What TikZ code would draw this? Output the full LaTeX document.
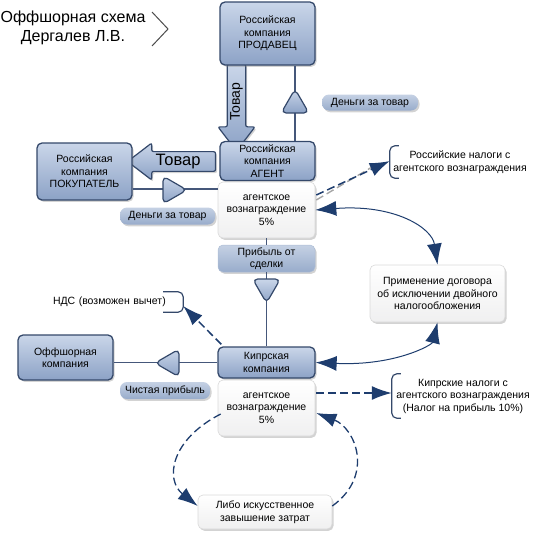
\documentclass[tikz,border=0pt]{standalone}
\usepackage{fontspec}
\setmainfont{Liberation Sans}
\usetikzlibrary{shapes.geometric,shapes.arrows,shadows,arrows.meta,calc}
\definecolor{bdr}{HTML}{34486A}
\definecolor{blueT}{HTML}{CAD6E9}
\definecolor{blueB}{HTML}{8CA2C6}
\definecolor{lineC}{HTML}{45577A}
\definecolor{arrC}{HTML}{1E3D6E}
\definecolor{pillT}{HTML}{C5D1E4}
\definecolor{pillB}{HTML}{98ACCB}
\tikzset{
 txt/.style={font=\fontsize{10.5}{12.5}\selectfont},
 shad/.style={drop shadow={opacity=0.35,shadow xshift=1.5pt,shadow yshift=-1.8pt}},
 bluebox/.style={draw=bdr, line width=1.3pt, rounded corners=5pt, top color=blueT, bottom color=blueB, shad, align=center, txt, inner sep=0pt},
 whitebox/.style={draw=black!15, line width=0.6pt, rounded corners=5pt, top color=white, bottom color=blue!4!black!6, shad, align=center, txt, inner sep=0pt},
 pillbox/.style={draw=pillB!80, line width=0.5pt, rounded corners=5pt, top color=pillT, bottom color=pillB, shad, align=center, txt, inner sep=0pt},
 pill/.style={rounded corners=7pt, top color=pillT, bottom color=pillB, shad, txt, inner sep=0pt},
 conn/.style={draw=lineC, line width=1.5pt},
 tri/.style={regular polygon, regular polygon sides=3, minimum size=32pt, inner sep=0pt, draw=bdr, line width=1.2pt, rounded corners=5pt, top color=blueT, bottom color=blueB},
 bigarrow/.style={single arrow, draw=bdr, line width=1.2pt, top color=blueT, bottom color=blueB, inner sep=0pt, single arrow head extend=7pt, single arrow tip angle=75, rounded corners=2pt, shad},
 dasharr/.style={draw=arrC, line width=1.5pt, dash pattern=on 8pt off 4pt, -{Latex[length=20pt,width=14pt]}},
 curvarr/.style={draw=arrC, line width=1pt, {Latex[length=21pt,width=15pt]}-{Latex[length=21pt,width=15pt]}},
 brk/.style={draw=bdr, line width=1.2pt, rounded corners=5pt},
 lbl/.style={txt, align=center, inner sep=0pt},
}
\begin{document}
\begin{tikzpicture}[x=1pt,y=-1pt]
\useasboundingbox (0,0) rectangle (534,533);
% title
\node[font=\fontsize{16}{19}\selectfont, align=center, inner sep=0pt] (title) at (73,28) {Оффшорная схема\\Дергалев Л.В.};
\coordinate (c1) at (152,12); \coordinate (c2) at (168,29); \coordinate (c3) at (152,46);
\draw[black!70, line width=1pt] (c1) -- (c2) -- (c3);

% big arrows (under boxes)
\node[bigarrow, rotate=90, shape border rotate=180, minimum height=87pt, minimum width=37pt, font=\fontsize{14}{14}\selectfont] (goods1) at (236.5,101.5) {Товар};
\node[bigarrow, shape border rotate=180, minimum height=88pt, minimum width=37pt, font=\fontsize{16.5}{16.5}\selectfont] (goods2) at (178,161.5) {Товар};

% main boxes
\node[bluebox, minimum width=95pt, minimum height=63pt] (seller) at (267.5,33.5) {Российская\\компания\\ПРОДАВЕЦ};
\node[bluebox, minimum width=95pt, minimum height=39pt] (agent) at (267.5,161) {Российская\\компания\\АГЕНТ};
\node[bluebox, minimum width=95pt, minimum height=57pt] (buyer) at (84.5,171.5) {Российская\\компания\\ПОКУПАТЕЛЬ};
\node[whitebox, minimum width=97pt, minimum height=56pt] (reward1) at (266.5,210) {агентское\\вознаграждение\\5\%};
\node[pillbox, minimum width=97pt, minimum height=27pt] (profit) at (266.5,258.5) {Прибыль от\\сделки};
\node[bluebox, minimum width=97pt, minimum height=31pt] (cyprus) at (266.5,362.5) {Кипрская\\компания};
\node[bluebox, minimum width=95pt, minimum height=45pt] (offshore) at (65.5,357.5) {Оффшорная\\компания};
\node[whitebox, minimum width=97pt, minimum height=56pt] (reward2) at (266.5,408) {агентское\\вознаграждение\\5\%};
\node[whitebox, minimum width=135pt, minimum height=57pt] (treaty) at (437.5,293.5) {Применение договора\\об исключении двойного\\налогообложения};
\node[whitebox, minimum width=134pt, minimum height=34pt] (costs) at (265,512) {Либо искусственное\\завышение затрат};

% pills
\node[pill, minimum width=96pt, minimum height=16pt] (money1) at (370,102.5) {Деньги за товар};
\node[pill, minimum width=95pt, minimum height=17pt] (money2) at (167.5,216) {Деньги за товар};
\node[pill, minimum width=90pt, minimum height=17pt] (netprofit) at (165,390.5) {Чистая прибыль};

% bracket labels
\node[lbl, minimum width=140pt, minimum height=32pt] (rutax) at (460,162) {Российские налоги с\\агентского вознаграждения};
\draw[brk] ($(rutax.north west)+(9,0)$) -- (rutax.north west) -- (rutax.south west) -- ($(rutax.south west)+(9,0)$);
\node[lbl, minimum width=142pt, minimum height=44pt] (cytax) at (463,396) {Кипрские налоги с\\агентского вознаграждения\\(Налог на прибыль 10\%)};
\draw[brk] ($(cytax.north west)+(9,0)$) -- (cytax.north west) -- (cytax.south west) -- ($(cytax.south west)+(9,0)$);
\node[txt, inner sep=0pt, text width=130pt, align=left, minimum height=20pt] (vat) at (118,302) {НДС (возможен вычет)};
\draw[brk] ($(vat.north east)+(-20,0)$) -- (vat.north east) -- (vat.south east) -- ($(vat.south east)+(-20,0)$);

% solid connectors with triangles
\draw[conn] ($(seller.south)+(27.5,0)$) -- ($(agent.north)+(27.5,0)$);
\node[tri] (t1) at (295,105) {};
\draw[conn] ($(buyer.east)+(0,17.5)$) coordinate (b1) -- (b1 -| reward1.west);
\node[tri, shape border rotate=-90] (t2) at (171,190) {};
\draw[conn] (reward1.south) -- (profit.north);
\draw[conn] (profit.south) -- (cyprus.north);
\node[tri, shape border rotate=180] (t3) at (266.5,287) {};
\draw[conn] (cyprus.west) -- (cyprus.west -| offshore.east);
\node[tri, shape border rotate=90] (t4) at (171,363) {};

% dashed arrows
\draw[black!35, line width=1.4pt, dash pattern=on 8pt off 4pt] ($(reward1.east)+(1,-10)$) -- ($(rutax.west)+(-16,4)$);
\draw[dasharr] ($(reward1.east)+(1,-15)$) -- ($(rutax.west)+(0,-1)$);
\draw[dasharr] ($(reward2.east)+(1,-15)$) -- ($(cytax.west)+(0,-3)$);
\draw[dasharr] ($(cyprus.north west)+(4,-2)$) -- ($(vat.east)+(0,4)$);

% curved double arrows
\draw[curvarr] (reward1.east) .. controls (395,204) and (432,228) .. (treaty.north);
\draw[curvarr] (cyprus.east) .. controls (395,366) and (432,345) .. (treaty.south);

% dashed loop
\draw[dasharr, line width=1.3pt] ($(reward2.west)+(3,6)$) .. controls (170,440) and (165,480) .. ($(costs.west)+(0,-6)$);
\draw[dasharr, line width=1.3pt] ($(costs.east)+(0,-6)$) .. controls (375,475) and (355,428) .. ($(reward2.east)+(1,5)$);
\end{tikzpicture}
\end{document}
